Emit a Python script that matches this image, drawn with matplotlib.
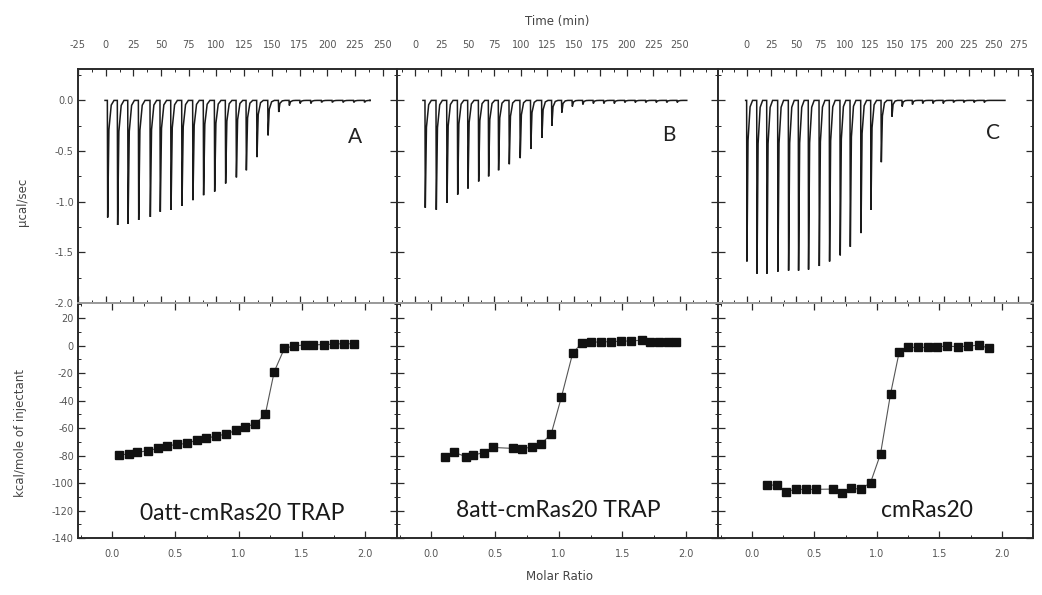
import matplotlib
matplotlib.use('Agg')
import matplotlib.pyplot as plt
from matplotlib.ticker import MultipleLocator, FixedLocator

plt.rcParams['font.family'] = ['DejaVu Sans']
plt.rcParams['axes.unicode_minus'] = False

# ---------------- data ----------------
# raw thermograms: injection times (min) and peak heights (ucal/sec)
inj_time_A = [1.5, 10.5, 19.9, 29.5, 40.0, 49.0, 58.7, 68.6, 78.5, 88.1, 98.1, 108.0, 117.7,
              126.7, 136.3, 146.3, 155.9, 165.5, 175.2, 184.9, 194.6, 204.3, 214.0, 223.7, 233.4]
peak_A = [-1.156, -1.23, -1.22, -1.18, -1.15, -1.10, -1.08, -1.04, -0.985, -0.936, -0.90, -0.82, -0.76,
          -0.69, -0.56, -0.345, -0.115, -0.05, -0.03, -0.03, -0.02, -0.02, -0.02, -0.02, -0.02]
inj_time_B = [9.4, 19.8, 29.9, 40.0, 49.7, 59.8, 69.2, 78.6, 88.7, 99.0, 109.0, 119.5, 128.9,
              138.3, 148.2, 158.1, 168.0, 177.9, 187.8, 197.7, 207.6, 217.5, 227.4, 237.3, 247.2]
peak_B = [-1.06, -1.08, -1.01, -0.93, -0.87, -0.80, -0.75, -0.69, -0.63, -0.57, -0.48, -0.37, -0.25,
          -0.12, -0.06, -0.04, -0.03, -0.03, -0.03, -0.02, -0.02, -0.02, -0.02, -0.02, -0.02]
inj_time_C = [0.0, 10.2, 20.3, 31.4, 42.2, 52.3, 62.4, 73.3, 83.7, 94.5, 104.7, 115.5, 125.6,
              136.1, 146.9, 157.2, 167.6, 178.0, 188.4, 198.8, 209.2, 219.6, 230.0, 240.4]
peak_C = [-1.59, -1.71, -1.71, -1.69, -1.68, -1.68, -1.67, -1.635, -1.59, -1.53, -1.445, -1.31, -1.08,
          -0.61, -0.16, -0.06, -0.04, -0.03, -0.03, -0.03, -0.02, -0.02, -0.02, -0.02]
baseline_span = [(-0.6, 238.6), (7.5, 256.5), (-1.0, 261.6)]

# integrated heats (kcal/mole of injectant) vs molar ratio
ratio_A = [0.05, 0.13, 0.20, 0.28, 0.36, 0.43, 0.51, 0.59, 0.67, 0.74, 0.82, 0.90, 0.98,
           1.05, 1.13, 1.21, 1.28, 1.36, 1.44, 1.52, 1.59, 1.67, 1.75, 1.83, 1.91]
heat_A = [-79.6, -78.9, -77.7, -76.5, -74.8, -73.1, -71.9, -71.2, -68.7, -67.5, -65.8, -64.4, -61.5,
          -59.0, -57.1, -49.8, -19.0, -2.1, -0.1, 0.4, 0.5, 0.8, 1.0, 1.5, 1.2]
ratio_B = [0.11, 0.18, 0.27, 0.33, 0.41, 0.48, 0.64, 0.71, 0.79, 0.86, 0.94, 1.02,
           1.11, 1.18, 1.25, 1.33, 1.41, 1.49, 1.57, 1.65, 1.72, 1.79, 1.86, 1.92]
heat_B = [-80.8, -77.7, -80.8, -79.6, -77.9, -74.1, -74.8, -75.3, -73.6, -71.6, -64.4, -37.7,
          -5.2, 1.6, 2.3, 2.8, 2.8, 3.3, 3.3, 4.0, 2.8, 2.8, 2.8, 2.3]
ratio_C = [0.12, 0.20, 0.27, 0.35, 0.43, 0.51, 0.65, 0.72, 0.79, 0.87, 0.95, 1.03,
           1.11, 1.18, 1.25, 1.33, 1.41, 1.48, 1.56, 1.65, 1.73, 1.82, 1.90]
heat_C = [-101.5, -101.5, -106.3, -104.6, -104.6, -104.6, -104.4, -107.5, -103.9, -104.4, -99.8, -78.9,
          -35.3, -4.5, -1.3, -1.3, -1.3, -0.8, -0.4, -0.8, -0.4, 0.4, -2.1]

time_ticks_A = [-25, 0, 25, 50, 75, 100, 125, 150, 175, 200, 225, 250]
time_ticks_B = [0, 25, 50, 75, 100, 125, 150, 175, 200, 225, 250]
time_ticks_C = [0, 25, 50, 75, 100, 125, 150, 175, 200, 225, 250, 275]
time_limits = [(-25, 263), (-17, 286), (-29, 290)]
ratio_ticks = [0.0, 0.5, 1.0, 1.5, 2.0]
power_ticks = [0.0, -0.5, -1.0, -1.5, -2.0]
heat_ticks = [20, 0, -20, -40, -60, -80, -100, -120, -140]

panel_letters = ['A', 'B', 'C']
letter_pos = [(225, -0.365), (240, -0.345), (249, -0.325)]
sample_names = ['0att-cmRas20 TRAP', '8att-cmRas20 TRAP', 'cmRas20']
name_pos = [(1.03, -122), (1.00, -120), (1.40, -120)]

# ---------------- figure ----------------
W, H = 1042, 595
fig = plt.figure(figsize=(W / 100, H / 100), dpi=100)

cols_px = [(78, 397), (397, 718), (718, 1033)]
top_px = (69, 303)
bot_px = (303, 538)


def add_ax(xpx, ypx):
    return fig.add_axes([xpx[0] / W, 1 - ypx[1] / H, (xpx[1] - xpx[0]) / W, (ypx[1] - ypx[0]) / H])


dark = '#2a2a2a'
tick_col = '#555555'


def style(ax):
    for s in ax.spines.values():
        s.set_linewidth(1.4)
        s.set_color(dark)
    ax.tick_params(which='both', direction='in', top=True, right=True, color=dark,
                   labelsize=7, labelcolor=tick_col, pad=3)
    ax.tick_params(which='major', length=5, width=0.9)
    ax.tick_params(which='minor', length=2.5, width=0.7)


times = [inj_time_A, inj_time_B, inj_time_C]
peaks = [peak_A, peak_B, peak_C]
tticks = [time_ticks_A, time_ticks_B, time_ticks_C]
ratios = [ratio_A, ratio_B, ratio_C]
heats = [heat_A, heat_B, heat_C]

for i in range(3):
    # ---- raw data panel ----
    ax = add_ax(cols_px[i], top_px)
    t0, t1 = baseline_span[i]
    xs, ys = [t0], [0.0]
    for t, d in zip(times[i], peaks[i]):
        xs += [t, t + 0.3, t + 1.4, t + 3.5, t + 6.0]
        ys += [0.0, d, d * 0.25, d * 0.04, 0.0]
    xs.append(t1)
    ys.append(0.0)
    ax.plot(xs, ys, color='#1a1a1a', lw=1.1, solid_joinstyle='miter')
    ax.set_xlim(*time_limits[i])
    ax.set_ylim(-2.0, 0.31)
    ax.xaxis.set_major_locator(FixedLocator(tticks[i]))
    ax.xaxis.set_minor_locator(MultipleLocator(12.5))
    ax.set_xticklabels([str(v) for v in tticks[i]])
    ax.yaxis.set_major_locator(FixedLocator(power_ticks))
    ax.yaxis.set_minor_locator(MultipleLocator(0.25))
    style(ax)
    ax.tick_params(axis='x', labeltop=True, labelbottom=False, pad=14)
    if i == 0:
        ax.set_yticklabels(['%.1f' % v for v in power_ticks])
    else:
        ax.tick_params(axis='y', labelleft=False)
    ax.spines['bottom'].set_color('#9a9a9a')
    ax.text(*letter_pos[i], panel_letters[i], fontsize=15, color='#222222',
            ha='center', va='center', family=['Lato', 'DejaVu Sans'])

    # ---- integrated heat panel ----
    bx = add_ax(cols_px[i], bot_px)
    bx.plot(ratios[i], heats[i], color='#555555', lw=0.8, zorder=2)
    bx.plot(ratios[i], heats[i], ls='none', marker='s', ms=6, color='#111111', zorder=3)
    bx.set_xlim(-0.27, 2.25)
    bx.set_ylim(-140, 31)
    bx.xaxis.set_major_locator(FixedLocator(ratio_ticks))
    bx.xaxis.set_minor_locator(MultipleLocator(0.25))
    bx.set_xticklabels(['%.1f' % v for v in ratio_ticks])
    bx.yaxis.set_major_locator(FixedLocator(heat_ticks))
    bx.yaxis.set_minor_locator(MultipleLocator(10))
    style(bx)
    bx.tick_params(axis='x', pad=8)
    if i == 0:
        bx.set_yticklabels([str(v) for v in heat_ticks])
    else:
        bx.tick_params(axis='y', labelleft=False)
    bx.spines['top'].set_color('#9a9a9a')
    bx.text(*name_pos[i], sample_names[i], fontsize=16.5, color='#1a1a1a',
            ha='center', va='center', family=['Lato', 'DejaVu Sans'])

fig.text(557 / W, 1 - 22 / H, 'Time (min)', ha='center', va='center', fontsize=8.5, color='#444444')
fig.text(560 / W, 1 - 577 / H, 'Molar Ratio', ha='center', va='center', fontsize=8.5, color='#444444')
fig.text(23 / W, 1 - 202 / H, 'µcal/sec', ha='center', va='center', rotation=90, fontsize=8.5, color='#444444')
fig.text(21 / W, 1 - 433 / H, 'kcal/mole of injectant', ha='center', va='center', rotation=90,
         fontsize=8.5, color='#444444')

fig.savefig('out.png', dpi=100, facecolor='white')
